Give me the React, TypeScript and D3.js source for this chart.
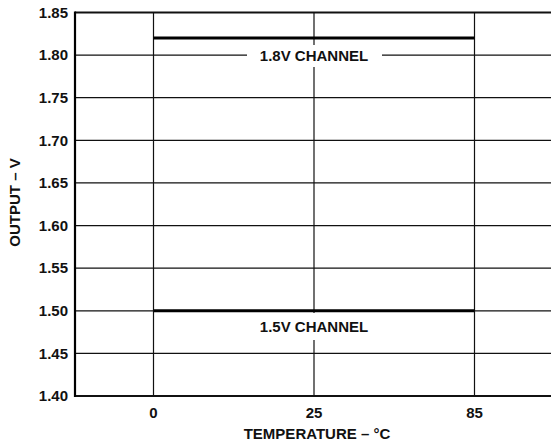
import React, { useEffect, useRef } from 'react';
import * as d3 from 'd3';

// chart values
const temperatures = ['0', '25', '85'];
const channel18 = [1.82, 1.82, 1.82];
const channel15 = [1.5, 1.5, 1.5];
const yTicks = [1.4, 1.45, 1.5, 1.55, 1.6, 1.65, 1.7, 1.75, 1.8, 1.85];
const seriesLabels = ['1.8V CHANNEL', '1.5V CHANNEL'];

const W = 551;
const H = 446;
const FONT = '"Liberation Sans", Arial, Helvetica, sans-serif';

const App: React.FC = () => {
  const svgRef = useRef<SVGSVGElement>(null);

  useEffect(() => {
    const svg = d3.select(svgRef.current);
    svg.selectAll('*').remove();

    const left = 75;
    const right = 551;
    const top = 12.5;
    const bottom = 396;

    const y = d3.scaleLinear().domain([1.4, 1.85]).range([bottom, top]);
    const x = d3.scalePoint<string>().domain(temperatures).range([153.5, 474.5]);

    const g = svg.append('g');

    // horizontal grid
    g.selectAll('line.hgrid')
      .data(yTicks)
      .enter()
      .append('line')
      .attr('x1', left)
      .attr('x2', right)
      .attr('y1', d => y(d))
      .attr('y2', d => y(d))
      .attr('stroke', '#111')
      .attr('stroke-width', d => (d === 1.85 || d === 1.4 ? 2 : 1.2));

    // vertical grid
    g.selectAll('line.vgrid')
      .data(temperatures)
      .enter()
      .append('line')
      .attr('x1', d => x(d)!)
      .attr('x2', d => x(d)!)
      .attr('y1', top)
      .attr('y2', bottom)
      .attr('stroke', '#111')
      .attr('stroke-width', 1.2);

    // left axis
    g.append('line')
      .attr('x1', left)
      .attr('x2', left)
      .attr('y1', top - 1)
      .attr('y2', bottom + 1)
      .attr('stroke', '#000')
      .attr('stroke-width', 2.2);

    const line = d3.line<number>()
      .x((_, i) => x(temperatures[i])!)
      .y(d => y(d));

    [channel18, channel15].forEach(s => {
      g.append('path')
        .datum(s)
        .attr('d', line)
        .attr('fill', 'none')
        .attr('stroke', '#000')
        .attr('stroke-width', 3);
    });

    // series labels with white backing
    const labelPos = [
      { rx: 247, ry: 45, rw: 135, rh: 22, base: 60.5 },
      { rx: 247, ry: 313, rw: 135, rh: 27, base: 331.5 },
    ];
    seriesLabels.forEach((t, i) => {
      const p = labelPos[i];
      g.append('rect')
        .attr('x', p.rx)
        .attr('y', p.ry)
        .attr('width', p.rw)
        .attr('height', p.rh)
        .attr('fill', '#fff');
      g.append('text')
        .attr('x', x('25')!)
        .attr('y', p.base)
        .attr('text-anchor', 'middle')
        .attr('font-family', FONT)
        .attr('font-weight', 'bold')
        .attr('font-size', 15)
        .attr('fill', '#111')
        .text(t);
    });

    // y tick labels
    g.selectAll('text.ytick')
      .data(yTicks)
      .enter()
      .append('text')
      .attr('x', 68)
      .attr('y', d => y(d) + 5.3)
      .attr('text-anchor', 'end')
      .attr('font-family', FONT)
      .attr('font-weight', 'bold')
      .attr('font-size', 15)
      .attr('fill', '#111')
      .text(d => d.toFixed(2));

    // x tick labels
    g.selectAll('text.xtick')
      .data(temperatures)
      .enter()
      .append('text')
      .attr('x', d => x(d)!)
      .attr('y', 417.5)
      .attr('text-anchor', 'middle')
      .attr('font-family', FONT)
      .attr('font-weight', 'bold')
      .attr('font-size', 15)
      .attr('fill', '#111')
      .text(d => d);

    g.append('text')
      .attr('x', 317)
      .attr('y', 438.5)
      .attr('text-anchor', 'middle')
      .attr('font-family', FONT)
      .attr('font-weight', 'bold')
      .attr('font-size', 15)
      .attr('fill', '#111')
      .text('TEMPERATURE – °C');

    g.append('text')
      .attr('transform', 'translate(19.5,202.5) rotate(-90)')
      .attr('text-anchor', 'middle')
      .attr('font-family', FONT)
      .attr('font-weight', 'bold')
      .attr('font-size', 15)
      .attr('fill', '#111')
      .text('OUTPUT – V');
  }, []);

  return (
    <svg
      ref={svgRef}
      width={W}
      height={H}
      style={{ position: 'absolute', left: 0, top: 0, background: '#fff' }}
    />
  );
};

export default App;
